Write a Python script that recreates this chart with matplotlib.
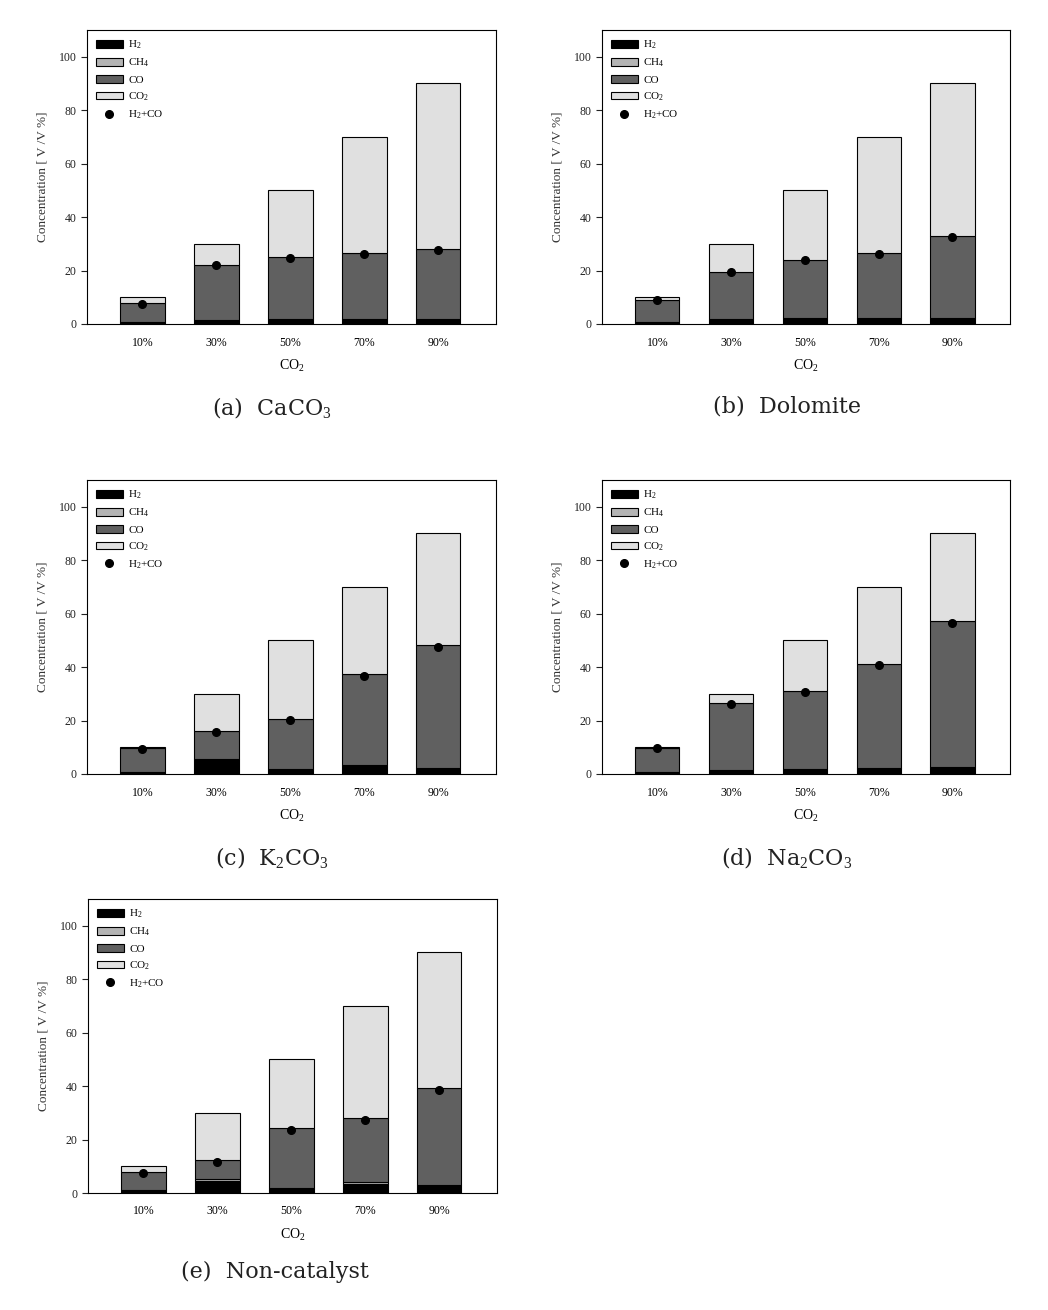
"""Gas composition vs CO2 feed fraction for four catalysts and the non-catalyst case."""

import matplotlib

matplotlib.use("Agg")

import matplotlib.pyplot as plt
import numpy as np

plt.rcParams["font.family"] = ["Liberation Serif", "DejaVu Serif"]
plt.rcParams["mathtext.fontset"] = "custom"
plt.rcParams["mathtext.rm"] = "Liberation Serif"
plt.rcParams["mathtext.it"] = "Liberation Serif:italic"

categories = ["10%", "30%", "50%", "70%", "90%"]
series_labels = ["H$_2$", "CH$_4$", "CO", "CO$_2$"]
dot_label = "H$_2$+CO"

# (a) CaCO3
h2_caco3 = [0.8, 1.5, 2.0, 2.0, 1.7]
ch4_caco3 = [0.0, 0.0, 0.0, 0.0, 0.0]
co_caco3 = [6.9, 20.4, 22.9, 24.4, 26.3]
co2_caco3 = [2.3, 8.1, 25.1, 43.6, 62.0]
syngas_caco3 = [7.6, 21.9, 24.6, 26.2, 27.6]

# (b) Dolomite
h2_dolomite = [0.9, 1.7, 2.1, 2.1, 2.1]
ch4_dolomite = [0.0, 0.0, 0.0, 0.0, 0.0]
co_dolomite = [8.0, 17.8, 22.0, 24.3, 30.9]
co2_dolomite = [1.1, 10.5, 25.9, 43.6, 57.0]
syngas_dolomite = [8.9, 19.3, 23.8, 26.2, 32.5]

# (c) K2CO3
h2_k2co3 = [0.8, 5.6, 2.0, 3.5, 2.4]
ch4_k2co3 = [0.0, 0.0, 0.0, 0.0, 0.0]
co_k2co3 = [8.9, 10.4, 18.6, 33.8, 45.7]
co2_k2co3 = [0.3, 14.0, 29.4, 32.7, 41.9]
syngas_k2co3 = [9.5, 15.6, 20.2, 36.8, 47.6]

# (d) Na2CO3
h2_na2co3 = [0.9, 1.6, 2.0, 2.4, 2.8]
ch4_na2co3 = [0.0, 0.0, 0.0, 0.0, 0.0]
co_na2co3 = [8.8, 24.8, 28.9, 38.6, 54.3]
co2_na2co3 = [0.3, 3.6, 19.1, 29.0, 32.9]
syngas_na2co3 = [9.6, 26.3, 30.7, 40.9, 56.6]

# (e) Non-catalyst
h2_none = [1.2, 4.4, 1.9, 3.5, 2.9]
ch4_none = [0.0, 0.8, 0.0, 0.7, 0.0]
co_none = [6.5, 7.3, 22.3, 23.7, 36.4]
co2_none = [2.3, 17.5, 25.8, 42.1, 50.7]
syngas_none = [7.6, 11.6, 23.6, 27.2, 38.4]

captions = ["(a)  CaCO$_3$", "(b)  Dolomite", "(c)  K$_2$CO$_3$", "(d)  Na$_2$CO$_3$", "(e)  Non-catalyst"]

panels = [
    (h2_caco3, ch4_caco3, co_caco3, co2_caco3, syngas_caco3),
    (h2_dolomite, ch4_dolomite, co_dolomite, co2_dolomite, syngas_dolomite),
    (h2_k2co3, ch4_k2co3, co_k2co3, co2_k2co3, syngas_k2co3),
    (h2_na2co3, ch4_na2co3, co_na2co3, co2_na2co3, syngas_na2co3),
    (h2_none, ch4_none, co_none, co2_none, syngas_none),
]

colors = ["#000000", "#b4b4b4", "#606060", "#e0e0e0"]

# axes rectangles in pixels: left, top, right, bottom (figure is 1048 x 1310)
W, H = 1048, 1310
boxes = [
    (87, 30, 496, 324),
    (602, 30, 1010, 324),
    (87, 480, 496, 774),
    (602, 480, 1010, 774),
    (88, 899, 497, 1193),
]
caption_pos = [(272, 407), (787, 407), (272, 857), (787, 857), (275, 1272)]


def draw_panel(ax, layers, syngas):
    x = np.arange(len(categories))
    bottom = np.zeros(len(categories))
    handles = []
    for values, color, label in zip(layers, colors, series_labels):
        bars = ax.bar(x, values, width=0.6, bottom=bottom, color=color,
                      edgecolor="black", linewidth=0.8, label=label)
        handles.append(bars)
        bottom += np.asarray(values)
    (dots,) = ax.plot(x, syngas, "o", color="black", markersize=5.5, label=dot_label, zorder=5)
    handles.append(dots)

    ax.set_xlim(-0.75, 4.78)
    ax.set_ylim(0, 110)
    ax.set_yticks(range(0, 101, 20))
    ax.set_xticks(x)
    ax.set_xticklabels(categories)
    ax.tick_params(axis="x", length=0, labelsize=8.5, pad=9)
    ax.tick_params(axis="y", direction="out", length=4, width=0.8, labelsize=8.5, colors="#222222")
    for spine in ax.spines.values():
        spine.set_linewidth(0.8)
    ax.set_ylabel("Concentration [ V /V %]", fontsize=9.5, color="#333333", labelpad=7)
    ax.set_xlabel("CO$_2$", fontsize=10, labelpad=7)
    ax.legend(handles=handles, loc="upper left", frameon=False, fontsize=8,
              handlelength=2.4, handleheight=0.7, labelspacing=0.5,
              handletextpad=0.5, borderaxespad=0.45, borderpad=0.35)


fig = plt.figure(figsize=(W / 100, H / 100), dpi=100)
for (left, top, right, bottom), (h2, ch4, co, co2, syngas), caption, (cx, cy) in zip(
        boxes, panels, captions, caption_pos):
    ax = fig.add_axes([left / W, 1 - bottom / H, (right - left) / W, (bottom - top) / H])
    draw_panel(ax, [h2, ch4, co, co2], syngas)
    fig.text(cx / W, 1 - cy / H, caption, ha="center", va="center",
             fontsize=16, family=["DejaVu Serif"], color="#222222")

fig.savefig("out.png", dpi=100)
plt.close(fig)
